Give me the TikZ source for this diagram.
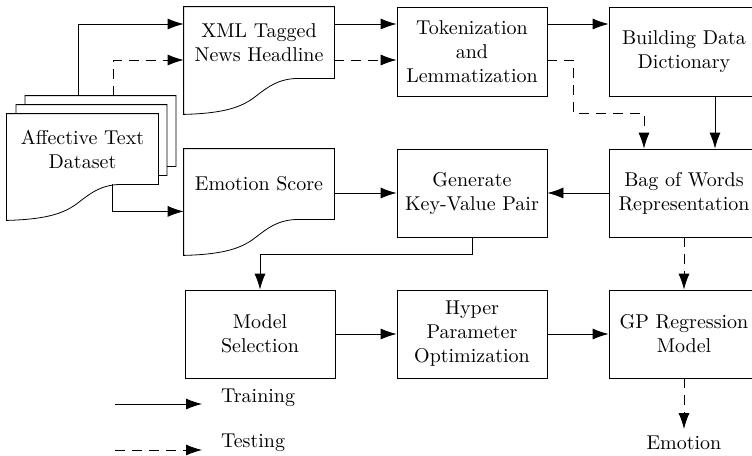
\documentclass[tikz,border=0pt]{standalone}
\usetikzlibrary{arrows.meta,backgrounds}

\tikzset{
  box/.style={draw, minimum width=75pt, minimum height=44pt, align=center},
  docnode/.style={minimum width=75pt, align=center},
  train/.style={-{Latex[length=8pt,width=5.5pt]}},
  test/.style={train, dash pattern=on 5pt off 3.5pt},
}

% outline of a document sheet with a wavy bottom edge
\newcommand{\docsheet}[1]{%
  \begin{scope}[on background layer]
    \draw[fill=white, shift={(#1.south west)}] (#1.north west) -- (#1.north east) -- (#1.south east)
      -- (116,0) .. controls (95,0) and (85,8) .. (72,18) .. controls (58,29) and (40,35) .. (0,36) -- cycle;
  \end{scope}}

\begin{document}
\begin{tikzpicture}[x=0.5pt,y=-0.5pt]
\useasboundingbox (0,0) rectangle (752,456);

\coordinate (trainrow) at (0,24);
\coordinate (testrow) at (0,60);

% dataset stack
\node[docnode, minimum height=35pt] (data3) at (100.5,131) {};
\node[docnode, minimum height=35pt] (data2) at (91.5,140) {};
\node[docnode, minimum height=35pt, minimum width=75.5pt] (data) at (82.5,149) {Affective Text\\Dataset};
\docsheet{data3}
\docsheet{data2}
\docsheet{data}

\node[docnode, minimum height=35.5pt] (xml) at (259,42.5) {XML Tagged\\News Headline};
\docsheet{xml}
\node[docnode, minimum height=35pt] (emo) at (259,184) {Emotion Score};
\docsheet{emo}

\node[box, minimum height=44.5pt] (token) at (472,51.5) {Tokenization\\and\\Lemmatization};
\node[box, minimum height=44.5pt] (build) at (684,51.5) {Building Data\\Dictionary};
\node[box] (gen) at (472,193) {Generate\\Key-Value Pair};
\node[box] (bag) at (684,193) {Bag of Words\\Representation};
\node[box] (model) at (260,334) {Model\\Selection};
\node[box] (hyper) at (472,334) {Hyper\\Parameter\\Optimization};
\node[box] (gp) at (684,334) {GP Regression\\Model};
\node (out) at (684,443) {Emotion};

% connectors
\draw[train] ([xshift=26.5pt]data3.north west) |- (xml.west |- trainrow);
\draw[test] ([xshift=44pt]data3.north west) |- (xml.west |- testrow);
\draw[train] ([xshift=53pt]data.south west) |- ([yshift=4pt]emo.south west);
\draw[train] (xml.east |- trainrow) -- (token.west |- trainrow);
\draw[test] (xml.east |- testrow) -- (token.west |- testrow);
\draw[train] (token.east |- trainrow) -- (build.west |- trainrow);
\draw[test] (token.east |- testrow) -- ++(26,0) -- ++(0,53) -| ([xshift=-20pt]bag.north);
\draw[train] ([xshift=15.5pt]build.south) -- ([xshift=15.5pt]bag.north);
\draw[train] (bag.west) -- (gen.east);
\draw[train] (emo.east |- gen.west) -- (gen.west);
\draw[train] (gen.south) -- ++(0,17) -| (model.north);
\draw[train] (model) -- (hyper);
\draw[train] (hyper) -- (gp);
\draw[test] (bag.south) -- (gp.north);
\draw[test] (gp.south) -- (out.north);

% legend
\node[anchor=west] (trainlbl) at (214,398) {Training};
\node[anchor=west] (testlbl) at (214,443) {Testing};
\coordinate (trainfrom) at (115,404);
\coordinate (testfrom) at (115,450);
\draw[train, shorten >=6pt] (trainfrom) -- (trainfrom -| trainlbl.west);
\draw[test, shorten >=6pt] (testfrom) -- (testfrom -| testlbl.west);
\end{tikzpicture}
\end{document}
